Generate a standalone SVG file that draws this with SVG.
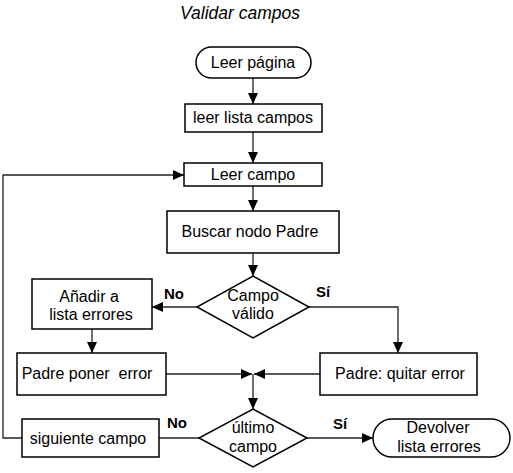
<svg xmlns="http://www.w3.org/2000/svg" width="513" height="473" viewBox="0 0 513 473">
<style>
.b{fill:#fff;stroke:#000;stroke-width:1.5}
.t{font-family:"Liberation Sans",Arial,sans-serif;font-size:16px;fill:#000;text-anchor:middle}
.l{font-family:"Liberation Sans",Arial,sans-serif;font-size:15px;font-weight:bold;fill:#000;text-anchor:middle}
.c{fill:none;stroke:#222;stroke-width:1.3}
.a{marker-end:url(#ah)}
</style>
<defs>
<marker id="ah" markerUnits="userSpaceOnUse" markerWidth="11" markerHeight="10" refX="11" refY="5" orient="auto">
<path d="M0,0 L11,5 L0,10 z" fill="#000"/>
</marker>
</defs>
<rect width="513" height="473" fill="#fff"/>
<text x="240" y="19" font-family="'Liberation Sans',Arial,sans-serif" font-size="17.5" font-style="italic" text-anchor="middle">Validar campos</text>
<g id="connectors">
<path class="c a" d="M253,78 V104"/>
<path class="c a" d="M253,132 V163"/>
<path class="c a" d="M253,186 V211"/>
<path class="c a" d="M253,253 V276"/>
<path class="c a" d="M197,307 H152"/>
<path class="c a" d="M309,307 H398 V353"/>
<path class="c a" d="M92,329 V353"/>
<path class="c a" d="M166,374 H252"/>
<path class="c a" d="M320,374 H254"/>
<path class="c a" d="M253,374 V409"/>
<path class="c" d="M199,438 H159"/>
<path class="c a" d="M22,438 H3 V175 H184"/>
<path class="c a" d="M307,438 H373"/>
<text class="l" x="174" y="299">No</text>
<text class="l" x="323" y="297">Sí</text>
<text class="l" x="177" y="428">No</text>
<text class="l" x="340" y="429">Sí</text>
</g>
<g id="n1"><rect class="b" x="196" y="47" width="115" height="31" rx="15.5"/><text class="t" x="253" y="68">Leer página</text></g>
<g id="n2"><rect class="b" x="185" y="104" width="137" height="28"/><text class="t" x="253" y="123">leer lista campos</text></g>
<g id="n3"><rect class="b" x="184" y="163" width="138" height="23"/><text class="t" x="253" y="180">Leer campo</text></g>
<g id="n4"><rect class="b" x="167" y="211" width="172" height="42"/><text class="t" x="250" y="237">Buscar nodo Padre</text></g>
<g id="n5"><path class="b" d="M253,276 L309,307 L253,338 L197,307 z"/><text class="t" x="253" y="301">Campo</text><text class="t" x="253" y="319">válido</text></g>
<g id="n6"><rect class="b" x="32" y="279" width="120" height="50"/><text class="t" x="89" y="302">Añadir a</text><text class="t" x="91" y="320">lista errores</text></g>
<g id="n7"><rect class="b" x="17" y="353" width="149" height="42"/><text class="t" x="87" y="379" xml:space="preserve">Padre poner  error</text></g>
<g id="n8"><rect class="b" x="320" y="353" width="157" height="42"/><text class="t" x="400" y="379">Padre: quitar error</text></g>
<g id="n9"><path class="b" d="M253,409 L307,438 L253,467 L199,438 z"/><text class="t" x="253" y="433">último</text><text class="t" x="253" y="452">campo</text></g>
<g id="n10"><rect class="b" x="22" y="419" width="137" height="38"/><text class="t" x="88" y="444">siguiente campo</text></g>
<g id="n11"><rect class="b" x="373" y="419" width="137" height="38" rx="19"/><text class="t" x="438" y="433">Devolver</text><text class="t" x="439" y="452">lista errores</text></g>
</svg>
